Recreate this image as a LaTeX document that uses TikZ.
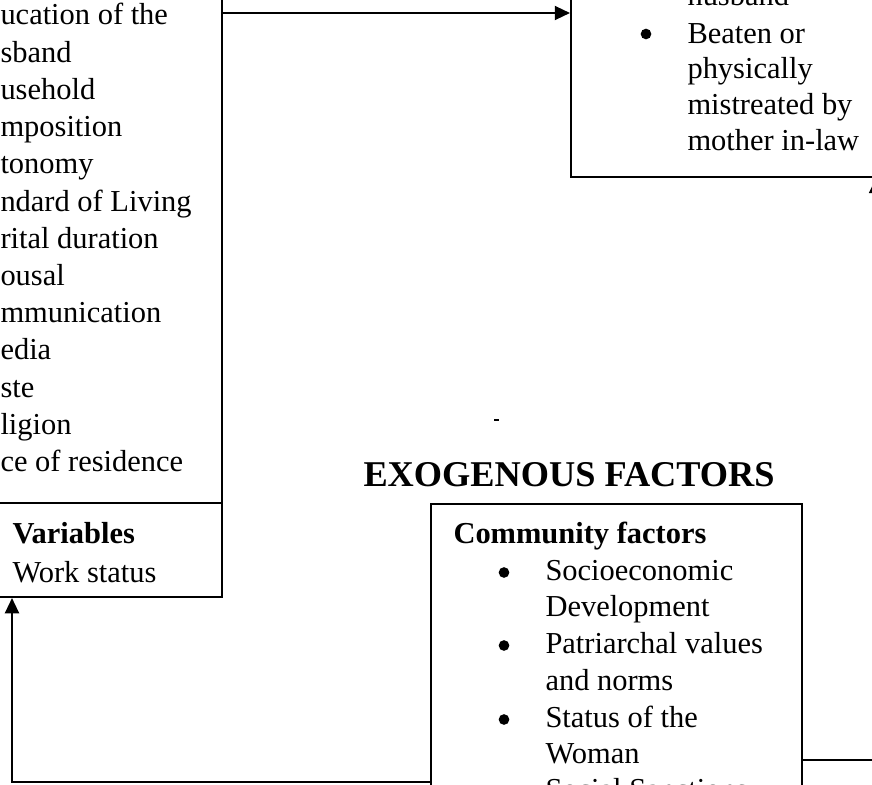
\documentclass[tikz,border=0pt]{standalone}
\usepackage{fontspec}
\setmainfont{Liberation Serif}
\usetikzlibrary{arrows.meta,fit}
\begin{document}
\begin{tikzpicture}[x=0.394pt,y=-0.394pt,
  box/.style={draw, line width=0.8pt, inner sep=0pt},
  txt/.style={anchor=base west, inner sep=0pt, font=\fontsize{12}{14}\selectfont},
  btxt/.style={anchor=base west, inner sep=0pt, font=\fontsize{12}{14}\selectfont\bfseries},
  bul/.style={circle, fill, inner sep=0pt, minimum size=4.2pt},
  arr/.style={line width=0.8pt, -{Triangle[length=6pt,width=5.5pt]}}]
\useasboundingbox (0,0) rectangle (872,784);
\clip (0,0) rectangle (872,784);
% boxes
\coordinate (l1) at (-200,-200); \coordinate (l2) at (222,503);
\coordinate (v1) at (-200,503);  \coordinate (v2) at (222,597);
\coordinate (r1) at (571,-200);  \coordinate (r2) at (1100,177);
\coordinate (c1) at (431,504);   \coordinate (c2) at (802,1000);
\node[box, fit=(l1)(l2)] (lbox) {};
\node[box, fit=(v1)(v2)] (lvbox) {};
\node[box, fit=(r1)(r2)] (rbox) {};
\node[box, fit=(c1)(c2)] (cbox) {};
% left box text
\node[txt] (t1) at (0,25) {ucation of the};
\node[txt] (t2) at (0,62.2) {sband};
\node[txt] (t3) at (0,99.4) {usehold};
\node[txt] (t4) at (0,136.6) {mposition};
\node[txt] (t5) at (0,173.8) {tonomy};
\node[txt] (t6) at (0,211) {ndard of Living};
\node[txt] (t7) at (0,248.2) {rital duration};
\node[txt] (t8) at (0,285.4) {ousal};
\node[txt] (t9) at (0,322.6) {mmunication};
\node[txt] (t10) at (0,359.8) {edia};
\node[txt] (t11) at (0,397) {ste};
\node[txt] (t12) at (0,434.2) {ligion};
\node[txt] (t13) at (0,471.4) {ce of residence};
\node[btxt] (v1t) at (12,543) {Variables};
\node[txt] (v2t) at (12,582) {Work status};
% right box text
\node[txt] (r0) at (687,6) {husband};
\node[bul] (rb1) at (646,34) {};
\node[txt] (r1t) at (687,43) {Beaten or};
\node[txt] (r2t) at (687,78.7) {physically};
\node[txt] (r3t) at (687,114.4) {mistreated by};
\node[txt] (r4t) at (687,150) {mother in-law};
% exogenous
\node[anchor=base west, inner sep=0pt, font=\fontsize{14.3}{16}\selectfont\bfseries] (exo) at (363,486) {EXOGENOUS FACTORS};
\draw[line width=0.6pt] (494,420) -- (499,420);
% community box text
\node[btxt] (ct) at (453,543) {Community factors};
\node[bul] (cb1) at (504,572.5) {};
\node[txt] (c1t) at (545,580) {Socioeconomic};
\node[txt] (c2t) at (545,616.7) {Development};
\node[bul] (cb2) at (504,645.5) {};
\node[txt] (c3t) at (545,653) {Patriarchal values};
\node[txt] (c4t) at (545,690) {and norms};
\node[bul] (cb3) at (504,719.5) {};
\node[txt] (c5t) at (545,727) {Status of the};
\node[txt] (c6t) at (545,763) {Woman};
\node[txt] (c7t) at (545,799) {Social Sanctions};
% connectors
\coordinate (ya) at (0,13);
\coordinate (yb) at (0,782);
\coordinate (xb) at (12,0);
\coordinate (yc) at (0,760);
\coordinate (xc) at (876,0);
\draw[arr] (lbox.east |- ya) -- (rbox.west |- ya);
\draw[arr] (cbox.west |- yb) -| (lvbox.south -| xb);
\draw[arr] (cbox.east |- yc) -| (rbox.south -| xc);
\end{tikzpicture}
\end{document}
